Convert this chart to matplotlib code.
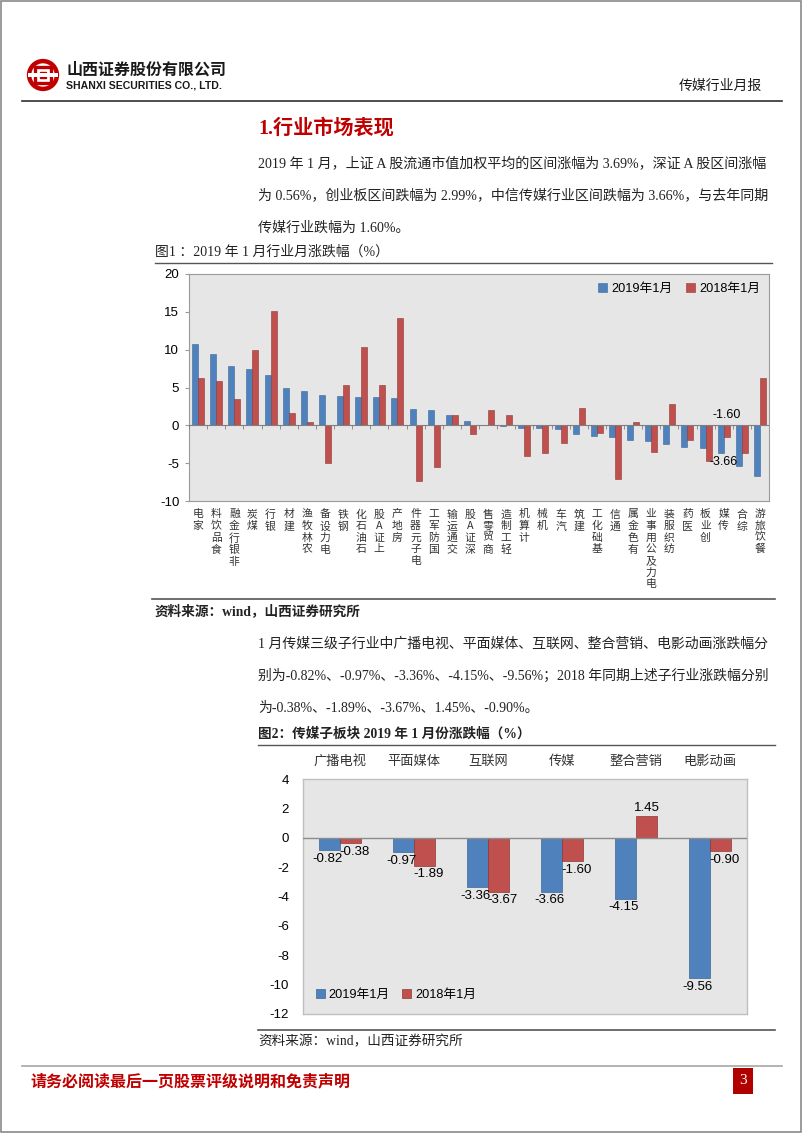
import matplotlib
matplotlib.use('Agg')
import matplotlib.pyplot as plt
from matplotlib.patches import Rectangle, Circle
import numpy as np

plt.rcParams['font.family'] = ['Liberation Sans', 'Noto Sans CJK SC']
plt.rcParams['axes.unicode_minus'] = False

W, H = 802, 1133
SERIF = ['Liberation Serif', 'Noto Sans CJK SC']
CJK = ['Noto Sans CJK SC', 'DejaVu Sans']
BLUE, RED = '#4F81BD', '#C0504D'
BRAND = '#C00000'

# ---- 图1 数据：2019年1月 / 2018年1月 行业月涨跌幅 (%) ----
industries = ['家电', '食品饮料', '非银行金融', '煤炭', '银行', '建材', '农林牧渔', '电力设备',
              '钢铁', '石油石化', '上证A股', '房地产', '电子元器件', '国防军工', '交通运输', '深证A股',
              '商贸零售', '轻工制造', '计算机', '机械', '汽车', '建筑', '基础化工', '通信',
              '有色金属', '电力及公用事业', '纺织服装', '医药', '创业板', '传媒', '综合', '餐饮旅游']
chg_2019 = [10.8, 9.4, 7.8, 7.4, 6.7, 4.95, 4.55, 4.0,
            3.9, 3.8, 3.69, 3.67, 2.1, 2.0, 1.35, 0.56,
            0.1, -0.1, -0.35, -0.35, -0.5, -1.15, -1.4, -1.55,
            -2.0, -2.1, -2.5, -2.9, -2.99, -3.66, -5.4, -6.7]
chg_2018 = [6.3, 5.9, 3.45, 9.95, 15.1, 1.6, 0.4, -5.0,
            5.35, 10.4, 5.35, 14.2, -7.4, -5.5, 1.35, -1.1,
            2.0, 1.4, -4.1, -3.6, -2.4, 2.35, -1.0, -7.1,
            0.5, -3.5, 2.8, -1.9, -4.7, -1.60, -3.6, 6.2]

# ---- 图2 数据：传媒子板块 ----
sub_sectors = ['广播电视', '平面媒体', '互联网', '传媒', '整合营销', '电影动画']
sub_2019 = [-0.82, -0.97, -3.36, -3.66, -4.15, -9.56]
sub_2018 = [-0.38, -1.89, -3.67, -1.60, 1.45, -0.90]

fig = plt.figure(figsize=(W / 100, H / 100), dpi=100)
fig.patch.set_facecolor('white')


def fx(x):
    return x / W


def fy(y):
    return 1 - y / H


def put(x, y, s, **kw):
    kw.setdefault('va', 'center')
    fig.text(fx(x), fy(y), s, **kw)


def hline(y, x0, x1, color='#404040', lw=1.0):
    fig.add_artist(plt.Line2D([fx(x0), fx(x1)], [fy(y), fy(y)], color=color, lw=lw))


def axes_px(x0, y0, x1, y1):
    return fig.add_axes([fx(x0), fy(y1), (x1 - x0) / W, (y1 - y0) / H])


# page frame
fig.add_artist(Rectangle((0.001, 0.001), 0.998, 0.998, transform=fig.transFigure,
                         fill=False, edgecolor='#8A8A8A', lw=1.2))

# ========== 页眉 ==========
logo = axes_px(26, 58, 60, 92)
logo.set_xlim(-1.1, 1.1)
logo.set_ylim(-1.1, 1.1)
logo.set_aspect('equal')
logo.axis('off')
logo.add_patch(Circle((0, 0), 0.9, facecolor='none', edgecolor=BRAND, lw=3.2))
logo.add_patch(Rectangle((-0.5, -0.5), 1.0, 1.0, facecolor='none', edgecolor=BRAND, lw=2.4))
logo.add_patch(Rectangle((-0.18, -0.18), 0.36, 0.36, facecolor=BRAND, edgecolor=BRAND))
logo.add_patch(Rectangle((-1.0, -0.12), 2.0, 0.24, facecolor='white', edgecolor='none'))

put(66, 70, '山西证券股份有限公司', fontsize=11.5, fontweight='bold', family=CJK, color='#1A1A1A')
put(66, 85, 'SHANXI SECURITIES CO., LTD.', fontsize=7.6, fontweight='bold',
    family=['Liberation Sans Narrow', 'Liberation Sans'], color='#1A1A1A')
put(762, 86, '传媒行业月报', fontsize=10, family=CJK, ha='right', color='#1A1A1A')
hline(101, 22, 782, color='#303030', lw=1.2)

# ========== 正文 ==========
put(258, 129, '1.行业市场表现', fontsize=14.5, fontweight='bold', family=SERIF, color=BRAND)
para1 = ['2019 年 1 月，上证 A 股流通市值加权平均的区间涨幅为 3.69%，深证 A 股区间涨幅',
         '为 0.56%，创业板区间跌幅为 2.99%，中信传媒行业区间跌幅为 3.66%，与去年同期',
         '传媒行业跌幅为 1.60%。']
for i, line in enumerate(para1):
    put(258, 164 + i * 32, line, fontsize=10.1, family=SERIF, color='#222222')

put(155, 252, '图1 ：2019 年 1 月行业月涨跌幅（%）', fontsize=10, family=SERIF, color='#222222')
hline(263, 155, 772, color='#555555', lw=1.0)

# ========== 图1 ==========
ax1 = axes_px(189, 274, 769, 501)
x = np.arange(len(industries))
w = 0.33
ax1.bar(x - w / 2, chg_2019, w, color=BLUE, edgecolor='#3A6796', lw=0.4, label='2019年1月', zorder=3)
ax1.bar(x + w / 2, chg_2018, w, color=RED, edgecolor='#8C3836', lw=0.4, label='2018年1月', zorder=3)
ax1.set_xlim(-0.5, len(industries) - 0.5)
ax1.set_ylim(-10, 20)
ax1.set_facecolor('#E6E6E6')
for s in ax1.spines.values():
    s.set_color('#9A9A9A')
    s.set_linewidth(0.8)
ax1.axhline(0, color='#7F7F7F', lw=0.8, zorder=4)
ax1.vlines(np.arange(len(industries) + 1) - 0.5, -0.45, 0, color='#7F7F7F', lw=0.6, zorder=4)
ax1.set_yticks(np.arange(-10, 21, 5))
ax1.tick_params(axis='y', length=3, color='#9A9A9A', labelsize=9.5, pad=4)
ax1.set_xticks(x)
ax1.set_xticklabels(['\n'.join(reversed(n)) for n in industries], family=CJK,
                    fontsize=7.8, linespacing=1.2, va='top', color='#333333')
ax1.tick_params(axis='x', length=0, pad=6)
ax1.legend(loc='upper right', frameon=False, ncol=2, fontsize=9.2, handlelength=0.7,
           handleheight=0.7, handletextpad=0.3, columnspacing=1.1, borderaxespad=0.3)

k = industries.index('传媒')
ax1.annotate(f'{chg_2019[k]:.2f}', (k - w / 2, chg_2019[k]), xytext=(2, -2),
             textcoords='offset points', ha='center', va='top', fontsize=9, zorder=5)
ax1.annotate(f'{chg_2018[k]:.2f}', (k + w / 2, 0), xytext=(0, 3),
             textcoords='offset points', ha='center', va='bottom', fontsize=9, zorder=5)

hline(599, 152, 775, color='#555555', lw=1.2)
put(155, 611, '资料来源：wind，山西证券研究所', fontsize=9.8, fontweight='bold', family=SERIF, color='#222222')

para2 = ['1 月传媒三级子行业中广播电视、平面媒体、互联网、整合营销、电影动画涨跌幅分',
         '别为-0.82%、-0.97%、-3.36%、-4.15%、-9.56%；2018 年同期上述子行业涨跌幅分别',
         '为-0.38%、-1.89%、-3.67%、1.45%、-0.90%。']
for i, line in enumerate(para2):
    put(258, 644 + i * 32, line, fontsize=10, family=SERIF, color='#222222')

put(258, 734, '图2：传媒子板块 2019 年 1 月份涨跌幅（%）', fontsize=9.8, fontweight='bold',
    family=SERIF, color='#222222')
hline(745, 258, 775, color='#555555', lw=1.0)

# ========== 图2 ==========
ax2 = axes_px(303, 779, 747, 1014)
x2 = np.arange(len(sub_sectors))
w2 = 0.29
ax2.bar(x2 - w2 / 2, sub_2019, w2, color=BLUE, edgecolor='#3A6796', lw=0.5, label='2019年1月', zorder=3)
ax2.bar(x2 + w2 / 2, sub_2018, w2, color=RED, edgecolor='#8C3836', lw=0.5, label='2018年1月', zorder=3)
ax2.set_xlim(-0.5, len(sub_sectors) - 0.5)
ax2.set_ylim(-12, 4)
ax2.set_facecolor('#E6E6E6')
for s in ax2.spines.values():
    s.set_color('#BFBFBF')
    s.set_linewidth(1.0)
ax2.axhline(0, color='#8C8C8C', lw=1.0, zorder=4)
ax2.set_yticks(np.arange(-12, 5, 2))
ax2.tick_params(axis='y', length=0, labelsize=9.5, pad=10)
ax2.xaxis.set_ticks_position('top')
ax2.set_xticks(x2)
ax2.set_xticklabels(sub_sectors, family=CJK, fontsize=9.5, color='#333333')
ax2.tick_params(axis='x', length=0, pad=8)

for vals, off, dx in ((sub_2019, -w2 / 2, -1.5), (sub_2018, w2 / 2, 3)):
    for i, v in enumerate(vals):
        if v < 0:
            ax2.annotate(f'{v:.2f}', (i + off, v), xytext=(dx, -2), textcoords='offset points',
                         ha='center', va='top', fontsize=9.5, zorder=5)
        else:
            ax2.annotate(f'{v:.2f}', (i + off, v), xytext=(0, 2), textcoords='offset points',
                         ha='center', va='bottom', fontsize=9.5, zorder=5)

ax2.legend(loc='lower left', frameon=False, ncol=2, fontsize=9.2, handlelength=0.7,
           handleheight=0.7, handletextpad=0.3, columnspacing=1.0, borderaxespad=0.6)

hline(1030, 258, 775, color='#555555', lw=1.2)
put(258, 1042, '资料来源：wind，山西证券研究所', fontsize=9.8, family=SERIF, color='#222222')

# ========== 页脚 ==========
hline(1066, 22, 782, color='#A6A6A6', lw=1.2)
put(30, 1081, '请务必阅读最后一页股票评级说明和免责声明', fontsize=11.5, fontweight='bold',
    family=CJK, color=BRAND)
fig.add_artist(Rectangle((fx(733), fy(1094)), 20 / W, 26 / H, transform=fig.transFigure,
                         facecolor='#B00000', edgecolor='none'))
put(743, 1081, '3', fontsize=11, color='white', ha='center', family=SERIF)

fig.savefig('out.png', dpi=100, facecolor='white')
